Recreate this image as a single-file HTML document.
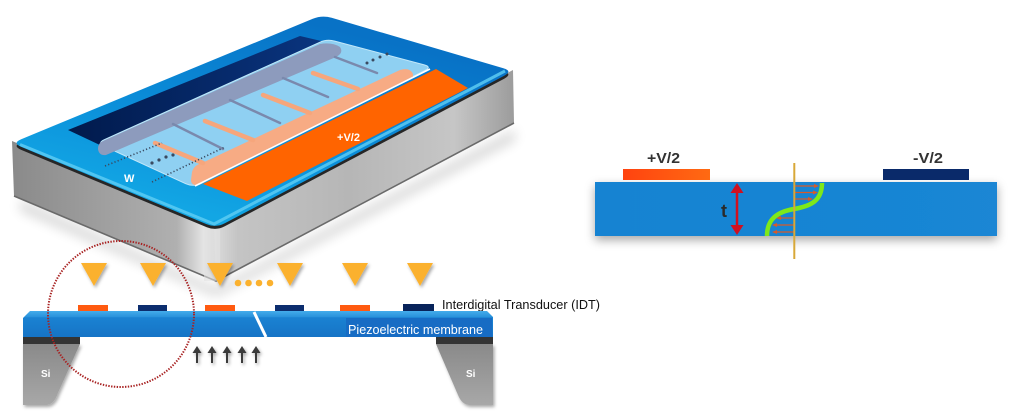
<!DOCTYPE html>
<html><head><meta charset="utf-8"><style>
html,body{margin:0;padding:0;background:#fff;}
svg{display:block;}
text{font-family:"Liberation Sans",Arial,sans-serif;}
</style></head><body>
<svg width="1010" height="417" viewBox="0 0 1010 417" xmlns="http://www.w3.org/2000/svg">
<defs>
  <filter id="sh" x="-30%" y="-30%" width="160%" height="160%"><feDropShadow dx="1.5" dy="2" stdDeviation="1.5" flood-color="#000" flood-opacity="0.35"/></filter>
  <filter id="bs" x="-10%" y="-60%" width="120%" height="220%"><feDropShadow dx="0" dy="4" stdDeviation="5" flood-color="#000" flood-opacity="0.35"/></filter>
  <filter id="ds" x="-10%" y="-10%" width="120%" height="130%"><feGaussianBlur stdDeviation="6"/></filter>
  <linearGradient id="lf" gradientUnits="userSpaceOnUse" x1="12" y1="0" x2="218" y2="0">
    <stop offset="0" stop-color="#8a8a8a"/><stop offset="0.8" stop-color="#b0b0b0"/><stop offset="0.93" stop-color="#e4e4e4"/><stop offset="1" stop-color="#cfcfcf"/>
  </linearGradient>
  <linearGradient id="rf" gradientUnits="userSpaceOnUse" x1="214" y1="0" x2="514" y2="0">
    <stop offset="0" stop-color="#dcdcdc"/><stop offset="0.08" stop-color="#c4c4c4"/><stop offset="0.45" stop-color="#b6b6b6"/><stop offset="0.8" stop-color="#c6c6c6"/><stop offset="1" stop-color="#9c9c9c"/>
  </linearGradient>
  <linearGradient id="tf" gradientUnits="userSpaceOnUse" x1="300" y1="20" x2="250" y2="225">
    <stop offset="0" stop-color="#0872c6"/><stop offset="0.6" stop-color="#0b8fda"/><stop offset="1" stop-color="#12a6e4"/>
  </linearGradient>
  <linearGradient id="nv" gradientUnits="userSpaceOnUse" x1="68" y1="0" x2="330" y2="0">
    <stop offset="0" stop-color="#011a4c"/><stop offset="1" stop-color="#0a3580"/>
  </linearGradient>
  <linearGradient id="mb" x1="0" y1="0" x2="0" y2="1">
    <stop offset="0" stop-color="#44aceb"/><stop offset="0.22" stop-color="#2a93dc"/><stop offset="0.26" stop-color="#1a82d2"/><stop offset="1" stop-color="#1674c6"/>
  </linearGradient>
  <linearGradient id="si" x1="0" y1="0" x2="0" y2="1">
    <stop offset="0" stop-color="#8a8a8a"/><stop offset="1" stop-color="#a8a8a8"/>
  </linearGradient>
  <linearGradient id="rb" x1="0" y1="0" x2="1" y2="0">
    <stop offset="0" stop-color="#1583d2"/><stop offset="1" stop-color="#1a86d4"/>
  </linearGradient>
  <linearGradient id="oe" x1="0" y1="0" x2="1" y2="0">
    <stop offset="0" stop-color="#ff4310"/><stop offset="1" stop-color="#ff6a12"/>
  </linearGradient>
</defs>

<rect width="1010" height="417" fill="#fff"/>

<!-- ===== 3D device ===== -->
<path d="M20,200 L216,288 L515,130 L515,140 L216,296 L20,210 Z" fill="#000" opacity="0.18" filter="url(#ds)"/>
<!-- side faces -->
<polygon points="12,141 216,226 216,281 14,196" fill="url(#lf)"/>
<polygon points="214,226 513,70 514,123 216,281" fill="url(#rf)"/>
<polyline points="14,196 216,281 514,123" fill="none" stroke="#6a6a6a" stroke-width="1.6"/>
<rect x="204" y="228" width="16" height="53" fill="#e2e2e2" opacity="0.6"/>
<!-- dark rim -->
<path d="M21.2,142.2 L312.8,21.8 Q322,18 331.6,20.8 L503.4,71.2 Q513,74 504.2,78.7 L224.8,226.3 Q216,231 206.8,227.2 L21.2,149.9 Q12,146 21.2,142.2 Z" fill="#262626"/>
<!-- top face -->
<path d="M21.2,139.2 L312.8,18.8 Q322,15 331.6,17.8 L503.4,68.2 Q513,71 504.2,75.7 L224.8,223.3 Q216,228 206.8,224.2 L21.2,146.9 Q12,143 21.2,139.2 Z" fill="url(#tf)"/>
<polyline points="20,144.5 214,224 505,71" fill="none" stroke="#5ccbf3" stroke-width="3" stroke-linejoin="round" opacity="0.85"/>

<!-- navy strip -->
<polygon points="68,130 300,36 334,44 102,146" fill="url(#nv)"/>
<!-- orange strip -->
<polygon points="203,184 436,69 468,88 247,201" fill="#ff6400"/>

<!-- translucent overlay -->
<path d="M104.3,139.7 L319.7,42.3 Q327,39 334.7,41.1 L424.3,64.9 Q432,67 424.8,70.6 L200.2,183.4 Q193,187 185.7,183.7 L104.3,146.3 Q97,143 104.3,139.7 Z" fill="#8fd0f2" stroke="#c2e8fa" stroke-width="1"/>
<!-- gray bus + fingers -->
<path d="M103,141 L320,44 Q332,42 340,47 Q344,53 336,57 L106,155 Q99,156 98,149 Q98,143 103,141 Z" fill="#8d9bbd"/>
<g stroke="#7a89ad" stroke-width="2.5" stroke-linecap="round" fill="none">
  <line x1="173" y1="124" x2="223" y2="149"/>
  <line x1="230" y1="100" x2="280" y2="123"/>
  <line x1="283" y1="78" x2="328" y2="97"/>
  <line x1="335" y1="57" x2="377" y2="73"/>
</g>
<!-- peach bus + fingers -->
<path d="M192,172 Q194,165 202,163 L400,70 Q410,67 413,74 L413,76.5 L199,185 Q191,186 191,180 Z" fill="#f7ab84"/>
<g stroke="#f6a67c" stroke-width="4.5" stroke-linecap="round" fill="none">
  <line x1="203" y1="163" x2="155" y2="143"/>
  <line x1="253" y1="140" x2="205" y2="121"/>
  <line x1="310" y1="113" x2="263" y2="95"/>
  <line x1="358" y1="89" x2="313" y2="73"/>
</g>
<line x1="195" y1="186" x2="430" y2="69" stroke="#ffffff" stroke-width="1.6"/>

<!-- dotted lines and dots -->
<g stroke="#3a4a60" stroke-width="1.6" stroke-dasharray="1.2 2.2" fill="none">
  <line x1="105" y1="166" x2="162" y2="143"/>
  <line x1="152" y1="182" x2="225" y2="147"/>
</g>
<g fill="#3a4a60">
  <circle cx="152" cy="163" r="1.6"/><circle cx="159" cy="160" r="1.6"/><circle cx="166" cy="157" r="1.6"/><circle cx="173" cy="155" r="1.6"/>
  <circle cx="367" cy="63" r="1.5"/><circle cx="373" cy="60" r="1.5"/><circle cx="380" cy="57" r="1.5"/><circle cx="387" cy="54" r="1.5"/>
</g>
<text x="124" y="182" font-size="11" font-weight="bold" fill="#ffffff">W</text>
<text x="337" y="141" font-size="11" font-weight="bold" fill="#ffffff" textLength="23">+V/2</text>

<!-- ===== Cross-section ===== -->
<!-- triangles -->
<g fill="#fbb12e" filter="url(#sh)">
  <polygon points="81,263 107,263 94,286"/>
  <polygon points="140,263 166,263 153,286"/>
  <polygon points="207,263 233,263 220,286"/>
  <polygon points="277,263 303,263 290,286"/>
  <polygon points="342,263 368,263 355,286"/>
  <polygon points="407,263 433,263 420,286"/>
</g>
<g fill="#fbb12e">
  <circle cx="238" cy="283" r="3.3"/><circle cx="248.5" cy="283" r="3.3"/><circle cx="259" cy="283" r="3.3"/><circle cx="270" cy="283" r="3.3"/>
</g>

<!-- electrodes -->
<rect x="78" y="305" width="30" height="6" fill="#ff5a10"/>
<rect x="138" y="305" width="29" height="6" fill="#0c2d6e"/>
<rect x="205" y="305" width="30" height="6" fill="#ff5a10"/>
<rect x="275" y="305" width="29" height="6" fill="#0c2d6e"/>
<rect x="340" y="305" width="30" height="6" fill="#ff5a10"/>
<rect x="403" y="304" width="31" height="8" fill="#08235a"/>

<text x="442" y="309" font-size="13" fill="#111" textLength="158" lengthAdjust="spacingAndGlyphs">Interdigital Transducer (IDT)</text>

<!-- Si supports -->
<path d="M23,344 L80,344 L58,393 Q54,405 46,405 L23,405 Z" fill="url(#si)" filter="url(#sh)"/>
<path d="M436,344 L493,344 L493,405 L470,405 Q462,405 458,395 Z" fill="url(#si)" filter="url(#sh)"/>
<rect x="23" y="337" width="57" height="7" fill="#343434"/>
<rect x="436" y="337" width="57" height="7" fill="#343434"/>
<text x="41" y="377" font-size="10" font-weight="bold" fill="#fff">Si</text>
<text x="466" y="377" font-size="10" font-weight="bold" fill="#fff">Si</text>

<!-- membrane -->
<path d="M23,318 L30,311 L487,311 L493,317 L493,337 L23,337 Z" fill="url(#mb)"/>
<rect x="346" y="318" width="146" height="19" fill="#176cc4"/>
<text x="348" y="334" font-size="13" fill="#ffffff" textLength="135" lengthAdjust="spacingAndGlyphs">Piezoelectric  membrane</text>
<line x1="254" y1="312" x2="266" y2="337" stroke="#ffffff" stroke-width="3"/>

<!-- arrows -->
<g fill="#3a3a3a" stroke="#3a3a3a" filter="url(#sh)">
  <g><line x1="197" y1="363" x2="197" y2="351" stroke-width="2"/><polygon points="192.5,353 201.5,353 197,346" stroke="none"/></g>
  <g><line x1="212" y1="363" x2="212" y2="351" stroke-width="2"/><polygon points="207.5,353 216.5,353 212,346" stroke="none"/></g>
  <g><line x1="227" y1="363" x2="227" y2="351" stroke-width="2"/><polygon points="222.5,353 231.5,353 227,346" stroke="none"/></g>
  <g><line x1="242" y1="363" x2="242" y2="351" stroke-width="2"/><polygon points="237.5,353 246.5,353 242,346" stroke="none"/></g>
  <g><line x1="256" y1="363" x2="256" y2="351" stroke-width="2"/><polygon points="251.5,353 260.5,353 256,346" stroke="none"/></g>
</g>

<!-- dotted circle -->
<circle cx="121" cy="314" r="73" fill="none" stroke="#a82222" stroke-width="2" stroke-dasharray="1.4 1.4"/>

<!-- ===== Right diagram ===== -->
<rect x="595" y="182" width="402" height="54" fill="url(#rb)" filter="url(#bs)"/>
<rect x="623" y="169" width="87" height="11" fill="url(#oe)"/>
<rect x="883" y="169" width="86" height="11" fill="#0a2a6a"/>
<text x="647" y="163" font-size="15" font-weight="bold" fill="#333" textLength="33" lengthAdjust="spacingAndGlyphs">+V/2</text>
<text x="913" y="163" font-size="15" font-weight="bold" fill="#333" textLength="30" lengthAdjust="spacingAndGlyphs">-V/2</text>

<!-- thickness arrow -->
<line x1="737" y1="190" x2="737" y2="228" stroke="#d01020" stroke-width="2.5"/>
<polygon points="730.5,193 743.5,193 737,183" fill="#d01020"/>
<polygon points="730.5,225 743.5,225 737,235" fill="#d01020"/>
<text x="721" y="217" font-size="18" font-weight="bold" fill="#2a2a2a">t</text>

<!-- small red arrows -->
<g stroke="#d85a28" stroke-width="1.2" fill="#d85a28">
  <line x1="795" y1="186" x2="816" y2="186"/><polygon points="819,186 814,184 814,188" stroke="none"/>
  <line x1="795" y1="192.5" x2="815" y2="192.5"/><polygon points="818,192.5 813,190.5 813,194.5" stroke="none"/>
  <line x1="795" y1="199" x2="810" y2="199"/><polygon points="813,199 808,197 808,201" stroke="none"/>
  <line x1="794" y1="218" x2="779" y2="218"/><polygon points="776,218 781,216 781,220" stroke="none"/>
  <line x1="794" y1="225" x2="775" y2="225"/><polygon points="772,225 777,223 777,227" stroke="none"/>
  <line x1="794" y1="232" x2="775" y2="232"/><polygon points="772,232 777,230 777,234" stroke="none"/>
</g>
<!-- green S curve -->
<path d="M822,183 C822,200 812,206 794,209 C776,212 767,220 767,236" fill="none" stroke="#7ee81a" stroke-width="4.5"/>
<!-- vertical line -->
<line x1="794.3" y1="163" x2="794.3" y2="259" stroke="#d8a838" stroke-width="2"/>
</svg>
</body></html>
